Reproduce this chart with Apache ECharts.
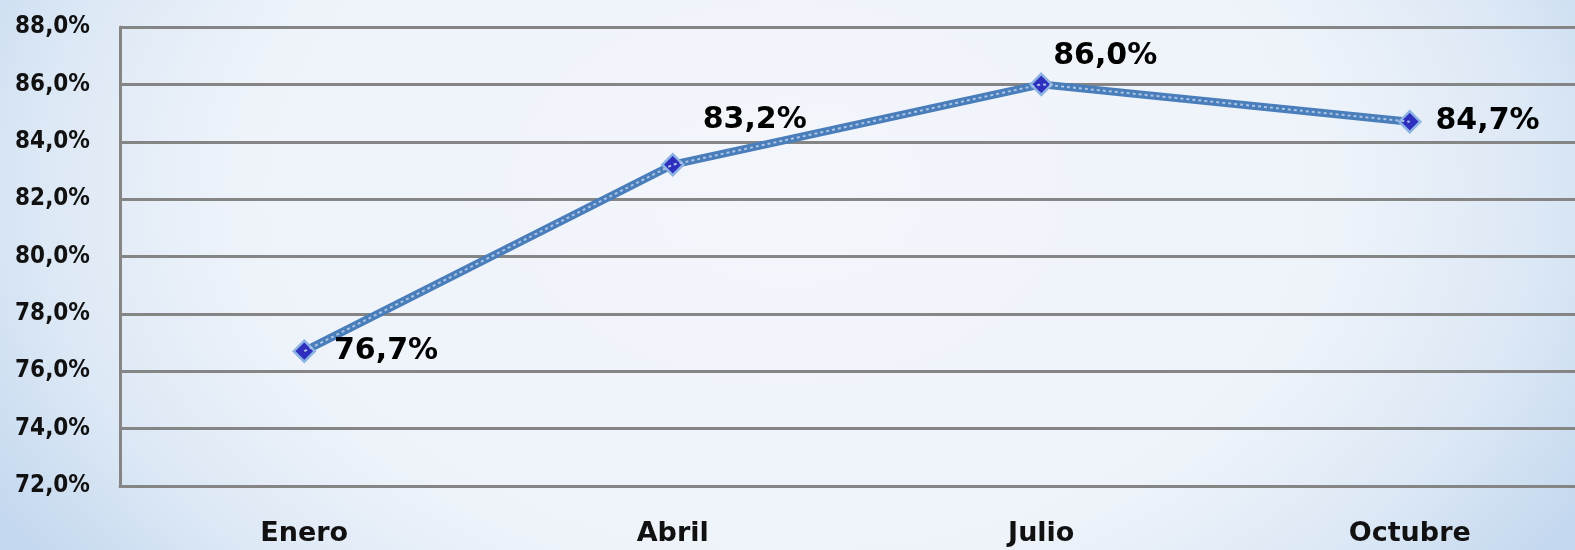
<!DOCTYPE html>
<html>
<head>
<meta charset="utf-8">
<script src="https://cdn.jsdelivr.net/npm/echarts@6/dist/echarts.min.js"></script>
<style>
  html, body { margin: 0; padding: 0; }
  #chart {
    width: 1575px;
    height: 550px;
    background: radial-gradient(ellipse 58% 115% at 50% 35%, #f3f6fb 0%, #eef3fa 60%, #dce8f5 82%, #c4d8ef 100%);
  }
</style>
</head>
<body>
<div id="chart"></div>
<script>
  var meses = ['Enero', 'Abril', 'Julio', 'Octubre'];
  var valores = [76.7, 83.2, 86.0, 84.7];

  function pct(v) {
    return v.toFixed(1).replace('.', ',') + '%';
  }

  // where each data label sits relative to its point
  var etiquetas = [
    { position: 'right', distance: 18 },
    { position: 'top', offset: [82, 0], distance: 18 },
    { position: 'top', offset: [64, 11], distance: 12 },
    { position: 'right', distance: 14 }
  ];

  var chart = echarts.init(document.getElementById('chart'));

  var option = {
    backgroundColor: 'transparent',
    grid: { left: 120, width: 1474, top: 27, height: 459, outerBoundsMode: 'none' },
    xAxis: {
      type: 'category',
      data: meses,
      boundaryGap: true,
      axisLine: { lineStyle: { color: '#858585', width: 3 } },
      axisTick: { show: false },
      axisLabel: {
        margin: 34,
        color: '#111',
        fontFamily: 'DejaVu Sans',
        fontWeight: 'bold',
        fontSize: 27
      }
    },
    yAxis: {
      type: 'value',
      min: 72,
      max: 88,
      interval: 2,
      axisLine: { show: true, lineStyle: { color: '#858585', width: 3 } },
      axisTick: { show: false },
      splitLine: { lineStyle: { color: '#858585', width: 3 } },
      axisLabel: {
        margin: 30,
        color: '#111',
        fontFamily: 'DejaVu Sans Condensed',
        fontWeight: 'bold',
        fontSize: 24,
        formatter: pct
      }
    },
    series: [
      {
        type: 'line',
        data: valores.map(function (v, i) {
          return { value: v, label: etiquetas[i] };
        }),
        symbol: 'diamond',
        symbolSize: 21,
        lineStyle: { color: '#4a7ebb', width: 8 },
        itemStyle: { color: '#2f2fbf', borderColor: '#8db3e2', borderWidth: 2.5 },
        label: {
          show: true,
          color: '#000',
          fontFamily: 'DejaVu Sans',
          fontWeight: 'bold',
          fontSize: 30,
          formatter: function (p) { return pct(p.value); }
        },
        z: 2
      },
      {
        type: 'line',
        data: valores,
        symbol: 'none',
        silent: true,
        lineStyle: { color: '#a9c4e6', width: 2, type: [3, 3] },
        z: 3
      }
    ]
  };

  chart.setOption(option);
</script>
</body>
</html>
